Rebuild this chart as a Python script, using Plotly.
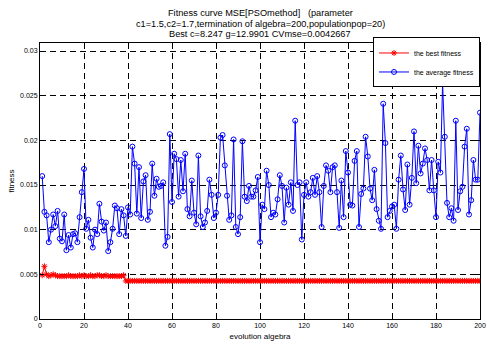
import plotly.graph_objects as go

generations = list(range(1, 201))

best_fitness = [
    0.0049, 0.0059, 0.0050, 0.0048, 0.0049, 0.0050, 0.0049, 0.0048, 0.0048, 0.0048,
    0.0048, 0.0048, 0.0049, 0.0048, 0.0048, 0.0048, 0.0048, 0.0049, 0.0048, 0.0049,
    0.0048, 0.0048, 0.0049, 0.0048, 0.0048, 0.0049, 0.0049, 0.0048, 0.0048, 0.0049,
    0.0048, 0.0048, 0.0048, 0.0048, 0.0048, 0.0048, 0.0048, 0.0049,
] + [0.0042667] * 162

average_fitness = [
    0.0160, 0.0120, 0.0116, 0.0086, 0.0100, 0.0117, 0.0104, 0.0121, 0.0090, 0.0087,
    0.0117, 0.0077, 0.0094, 0.0080, 0.0095, 0.0096, 0.0086, 0.0114, 0.0142, 0.0168,
    0.0101, 0.0111, 0.0091, 0.0080, 0.0100, 0.0095, 0.0129, 0.0109, 0.0099, 0.0108,
    0.0076, 0.0086, 0.0101, 0.0127, 0.0124, 0.0095, 0.0123, 0.0116, 0.0093, 0.0125,
    0.0117, 0.0193, 0.0174, 0.0118, 0.0170, 0.0113, 0.0154, 0.0161, 0.0111, 0.0120,
    0.0174, 0.0138, 0.0157, 0.0148, 0.0149, 0.0153, 0.0082, 0.0092, 0.0207, 0.0131,
    0.0185, 0.0179, 0.0137, 0.0178, 0.0143, 0.0185, 0.0123, 0.0115, 0.0155, 0.0119,
    0.0106, 0.0183, 0.0115, 0.0103, 0.0108, 0.0121, 0.0156, 0.0139, 0.0113, 0.0119,
    0.0139, 0.0203, 0.0206, 0.0172, 0.0138, 0.0111, 0.0116, 0.0201, 0.0103, 0.0095,
    0.0114, 0.0199, 0.0137, 0.0132, 0.0149, 0.0137, 0.0137, 0.0144, 0.0159, 0.0086,
    0.0128, 0.0123, 0.0166, 0.0150, 0.0114, 0.0119, 0.0117, 0.0134, 0.0161, 0.0149,
    0.0108, 0.0147, 0.0128, 0.0153, 0.0121, 0.0222, 0.0150, 0.0153, 0.0089, 0.0139,
    0.0153, 0.0137, 0.0142, 0.0158, 0.0139, 0.0160, 0.0142, 0.0103, 0.0149, 0.0172,
    0.0166, 0.0142, 0.0170, 0.0172, 0.0142, 0.0102, 0.0155, 0.0114, 0.0188, 0.0164,
    0.0128, 0.0127, 0.0177, 0.0188, 0.0103, 0.0140, 0.0146, 0.0204, 0.0182, 0.0146,
    0.0133, 0.0167, 0.0123, 0.0110, 0.0101, 0.0241, 0.0197, 0.0114, 0.0121, 0.0126,
    0.0128, 0.0101, 0.0156, 0.0183, 0.0145, 0.0122, 0.0173, 0.0128, 0.0158, 0.0210,
    0.0152, 0.0194, 0.0163, 0.0174, 0.0191, 0.0178, 0.0144, 0.0178, 0.0144, 0.0114,
    0.0176, 0.0164, 0.0264, 0.0204, 0.0130, 0.0114, 0.0124, 0.0110, 0.0222, 0.0122,
    0.0143, 0.0148, 0.0193, 0.0213, 0.0117, 0.0133, 0.0178, 0.0156, 0.0156, 0.0231,
]

x_ticks = [0, 20, 40, 60, 80, 100, 120, 140, 160, 180, 200]
x_tick_text = ["0", "20", "40", "60", "80", "100", "120", "140", "160", "180", "200"]
y_ticks = [0, 0.005, 0.01, 0.015, 0.02, 0.025, 0.03]
y_tick_text = ["0", "0.005", "0.01", "0.015", "0.02", "0.025", "0.03"]

title_lines = [
    "Fitness curve MSE[PSOmethod]\u00a0\u00a0\u00a0(parameter",
    "c1=1.5,c2=1.7,termination of algebra=200,populationpop=20)",
    "Best c=8.247 g=12.9901 CVmse=0.0042667",
]
title_shifts = [30, 19.5, 9.5]

FONT = "Liberation Sans, Arial, sans-serif"

fig = go.Figure()
fig.add_trace(go.Scatter(
    x=generations, y=best_fitness, mode="lines+markers", name="the best fitness",
    line=dict(color="#ff0000", width=1),
    marker=dict(symbol="asterisk-open", size=5, color="#ff0000",
                line=dict(color="#ff0000", width=1)),
))
fig.add_trace(go.Scatter(
    x=generations, y=average_fitness, mode="lines+markers", name="the average fitness",
    line=dict(color="#0000ff", width=1),
    marker=dict(symbol="circle-open", size=5, color="#0000ff",
                line=dict(color="#0000ff", width=1)),
))

axis_common = dict(
    showline=True, linecolor="black", linewidth=1, mirror="ticks",
    ticks="inside", ticklen=4, tickcolor="black", tickwidth=1,
    showgrid=True, gridcolor="black", gridwidth=1, griddash="6px,4px",
    zeroline=False, ticklabeloverflow="allow",
    tickfont=dict(family=FONT, size=7, color="black"),
)

for line_text, shift in zip(title_lines, title_shifts):
    fig.add_annotation(
        text=line_text, xref="paper", yref="paper", x=0.5, y=1,
        xanchor="center", yanchor="middle", yshift=shift, showarrow=False,
        font=dict(family=FONT, size=9.2, color="black"),
    )

fig.update_layout(
    width=488, height=341,
    margin=dict(l=40, r=2, t=43, b=19),
    paper_bgcolor="white", plot_bgcolor="white",
    font=dict(family=FONT, size=8, color="black"),
    showlegend=True,
    legend=dict(x=1, y=1.02, xanchor="right", yanchor="top",
                bgcolor="white", bordercolor="black", borderwidth=1,
                font=dict(family=FONT, size=7, color="black"),
                itemwidth=30, tracegroupgap=0),
    xaxis=dict(range=[0, 200], tickvals=x_ticks, ticktext=x_tick_text,
               title=dict(text="evolution algebra", standoff=4,
                          font=dict(family=FONT, size=8, color="black")),
               **axis_common),
    yaxis=dict(range=[0, 0.0309], tickvals=y_ticks, ticktext=y_tick_text,
               title=dict(text="fitness", standoff=4,
                          font=dict(family=FONT, size=8, color="black")),
               **axis_common),
)

fig.write_html("out.html")
